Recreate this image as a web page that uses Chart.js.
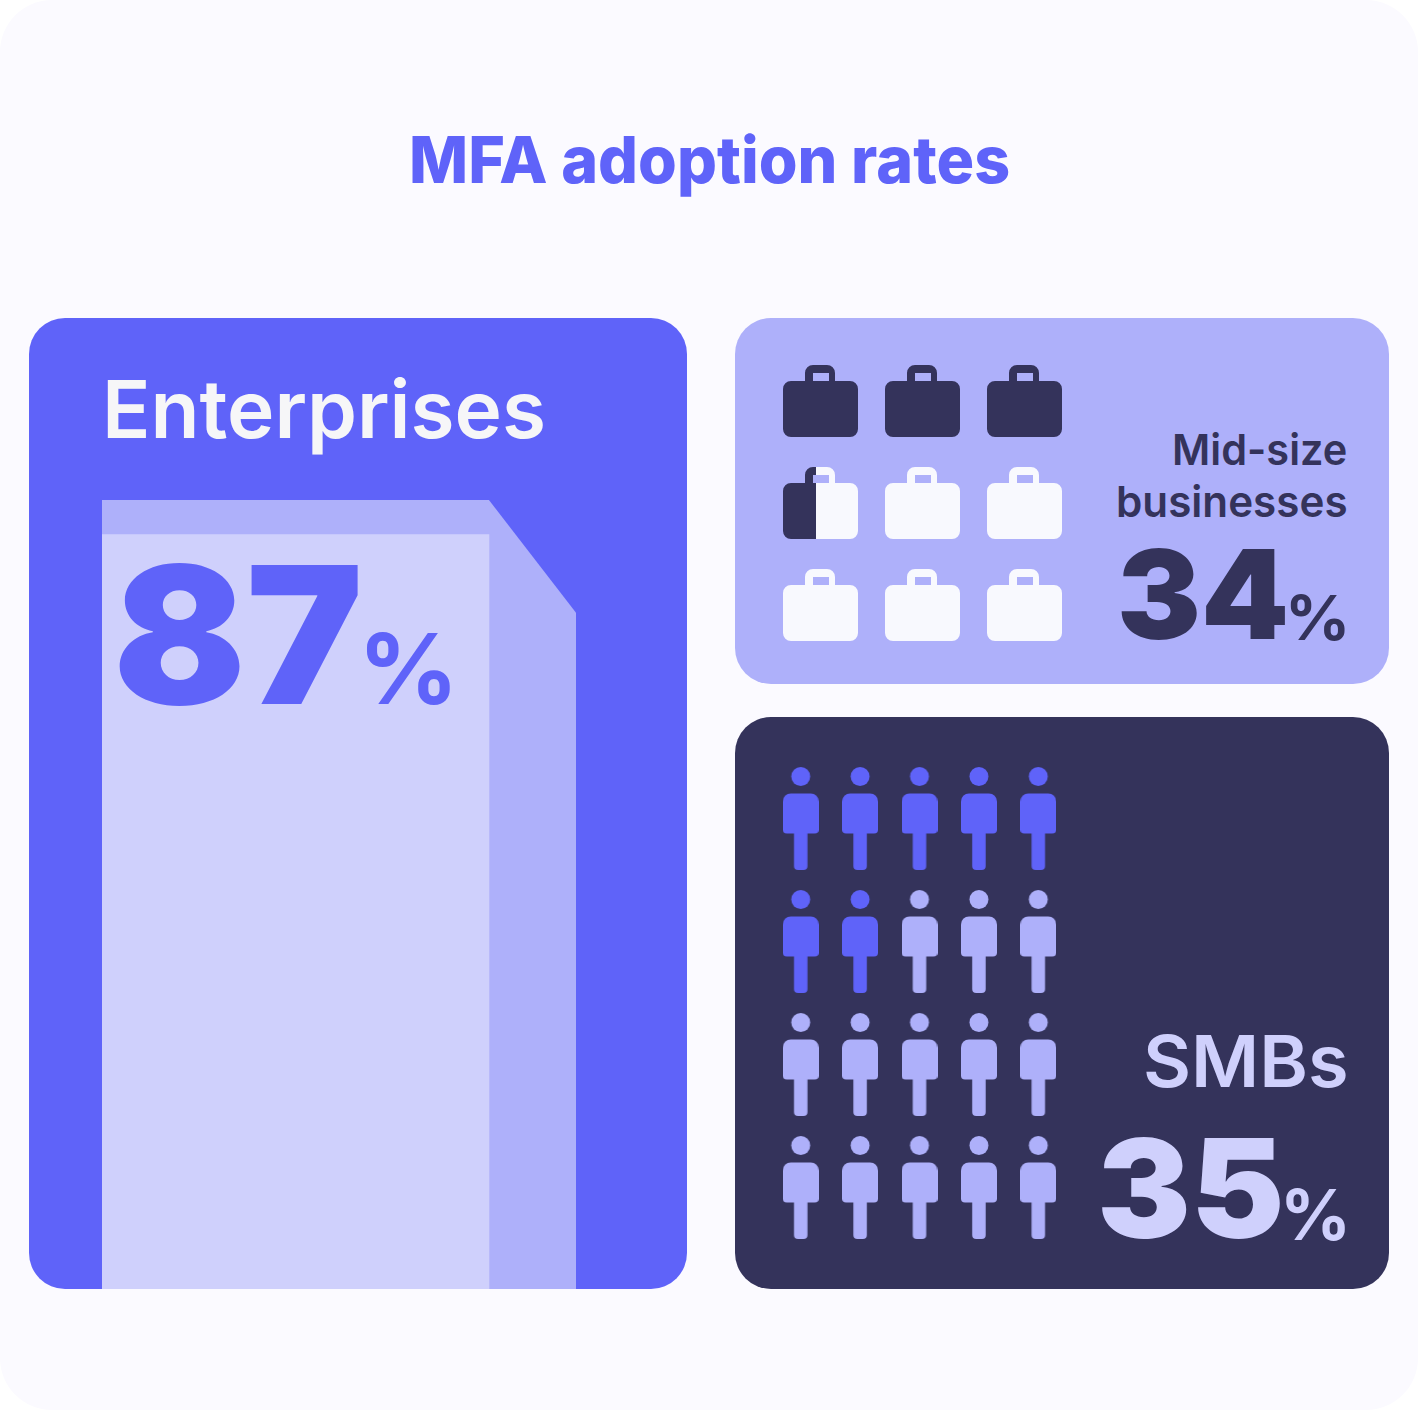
<!DOCTYPE html>
<html>
<head>
<meta charset="utf-8">
<title>MFA adoption rates</title>
<style>
html,body{margin:0;padding:0;background:#fff;width:1418px;height:1410px;overflow:hidden}
#card{position:absolute;left:0;top:0;width:1418px;height:1410px;border-radius:52px;background:#FBFAFF}
.panel{position:absolute;border-radius:36px}
.plot{position:absolute}
.plot canvas{display:block}
.t{position:absolute;white-space:pre;transform-origin:0 0;line-height:1;font-family:Inter,sans-serif}
</style>
<script src="https://cdn.jsdelivr.net/npm/chart.js@4/dist/chart.umd.min.js"></script>
</head>
<body>
<div id="card"></div>
<div class="panel" style="left:29px;top:318px;width:658px;height:971px;background:#5F63F9"></div>
<div class="panel" style="left:735px;top:318px;width:654px;height:366px;background:#AEB0FA"></div>
<div class="panel" style="left:735px;top:717px;width:654px;height:572px;background:#34335B"></div>
<div class="plot" style="left:102px;top:500px"><canvas id="cEnt" width="474" height="789"></canvas></div>
<div class="plot" style="left:770px;top:350px"><canvas id="cMid" width="306" height="306"></canvas></div>
<div class="plot" style="left:771px;top:757px"><canvas id="cSmb" width="297" height="492"></canvas></div>
<script>
// ---- data ----
const enterpriseValue = 87;
const midValue = 34;
const smbValue = 35;
// Enterprise "building": front face x position and the receding side outline
const buildingFrontX = [50];
const buildingSideX = [0, 100, 122.5, 122.5];
const buildingSideY = [91, 91, 78, 0];
// Mid-size pictogram: 3 x 3 briefcases, share of each icon that is dark
const midCols = [0, 1, 2];
const midRows = [0, 1, 2];
const midFill = [1, 1, 1, 0.44, 0, 0, 0, 0, 0];
// SMB pictogram: 5 x 4 people, 1 = highlighted
const smbCols = [0, 1, 2, 3, 4];
const smbRows = [0, 1, 2, 3];
const smbFill = [1, 1, 1, 1, 1, 1, 1, 0, 0, 0, 0, 0, 0, 0, 0, 0, 0, 0, 0, 0];

const C = {blue:'#5F63F9', mid:'#AEB0FA', pale:'#CFD0FC', dark:'#34335B', white:'#F8F9FE', text:'#F6F6F8'};

function rr(ctx,x,y,w,h,r){ctx.beginPath();ctx.roundRect(x,y,w,h,r);}

function briefcaseShape(ctx){
  ctx.beginPath();
  ctx.roundRect(0,16,75,56,8);
  ctx.roundRect(22,0,30,20,[8,8,0,0]);
  ctx.fill();
  ctx.clearRect(29.5,8,16,8);
}
function briefcaseIcon(frac){
  const c=document.createElement('canvas');c.width=76;c.height=72;
  const g=c.getContext('2d');
  g.fillStyle=C.white;briefcaseShape(g);
  if(frac>0){
    const d=document.createElement('canvas');d.width=76;d.height=72;
    const h=d.getContext('2d');
    h.fillStyle=C.dark;briefcaseShape(h);
    g.clearRect(0,0,75*frac,72);
    g.drawImage(d,0,0,75*frac,72,0,0,75*frac,72);
  }
  return c;
}
function personIcon(color){
  const c=document.createElement('canvas');c.width=36;c.height=103;
  const g=c.getContext('2d');
  g.fillStyle=color;
  g.beginPath();g.arc(18,9.5,9.5,0,Math.PI*2);g.fill();
  rr(g,0,26.5,36,40,[8,8,4,4]);g.fill();
  rr(g,11.25,60,13.5,43,[0,0,4,4]);g.fill();
  return c;
}

const base = {
  responsive:false, animation:false, events:[],
  layout:{padding:0,autoPadding:false},
  plugins:{legend:{display:false},tooltip:{enabled:false},title:{display:false}}
};
const hidden = (min,max,reverse)=>({type:'linear',display:false,bounds:'data',min,max,reverse:!!reverse,offset:false,grid:{display:false}});

new Chart(document.getElementById('cEnt'),{
  data:{datasets:[
    {type:'bar',label:'Enterprises',data:buildingFrontX.map(x=>({x,y:enterpriseValue})),
     backgroundColor:C.pale,barThickness:387,order:1},
    {type:'line',label:'side',data:buildingSideX.map((x,i)=>({x,y:buildingSideY[i]})),
     borderWidth:0,pointRadius:0,tension:0,fill:'origin',backgroundColor:C.mid,order:2}
  ]},
  options:{...base,scales:{x:hidden(0,122.5),y:hidden(0,91)}}
});

const midPts=[];midRows.forEach((r,i)=>midCols.forEach((c,j)=>midPts.push({x:c,y:r,f:midFill[i*midCols.length+j]})));
new Chart(document.getElementById('cMid'),{
  type:'scatter',
  data:{datasets:[{label:'Mid-size businesses',data:midPts,
    pointStyle:midPts.map(p=>briefcaseIcon(p.f)),pointRadius:38}]},
  options:{...base,scales:{x:hidden(-0.5,2.5),y:hidden(-0.5,2.5,true)}}
});

const smbPts=[];smbRows.forEach((r,i)=>smbCols.forEach((c,j)=>smbPts.push({x:c,y:r,f:smbFill[i*smbCols.length+j]})));
const personOn=personIcon(C.blue), personOff=personIcon(C.mid);
new Chart(document.getElementById('cSmb'),{
  type:'scatter',
  data:{datasets:[{label:'SMBs',data:smbPts,
    pointStyle:smbPts.map(p=>p.f?personOn:personOff),pointRadius:36}]},
  options:{...base,scales:{x:hidden(-0.5,4.5),y:hidden(-0.5,3.5,true)}}
});

// ---- text: [string, font-size, weight, colour, ink-left, ink-right, baseline]
const texts = [
  ['MFA adoption rates',65,800,C.blue,412,1009,183],
  ['Enterprises',80,600,C.text,107,543,438],
  [enterpriseValue+'',191,900,C.blue,119,358,704],
  ['%',98,700,C.blue,366,450,704],
  ['Mid-size',43,600,C.dark,1175,1346,465],
  ['businesses',43,600,C.dark,1118,1346,517],
  [midValue+'',124,900,C.dark,1121,1285,639],
  ['%',62,700,C.dark,1290,1345,640],
  ['SMBs',72,600,C.pale,1146,1346,1087],
  [smbValue+'',137,900,C.pale,1102,1280,1238],
  ['%',70,700,C.pale,1286,1345,1240]
];
const mc=document.createElement('canvas').getContext('2d');
texts.forEach(([s,size,w,col,l,r,b])=>{
  const el=document.createElement('div');el.className='t';el.textContent=s;
  el.style.fontSize=size+'px';el.style.fontWeight=w;el.style.color=col;
  const strut=document.createElement('span');strut.style.cssText='display:inline-block;width:0;height:0;vertical-align:baseline';
  el.appendChild(strut);
  document.body.appendChild(el);
  mc.font=w+' '+size+'px Inter, sans-serif';
  const m=mc.measureText(s);
  const ink=m.actualBoundingBoxLeft+m.actualBoundingBoxRight;
  const sx=(r-l)/ink;
  el.style.left=(l+m.actualBoundingBoxLeft*sx)+'px';
  el.style.top='0px';
  const y=strut.getBoundingClientRect().bottom;
  el.style.top=(b-y)+'px';
  el.style.transform='scaleX('+sx+')';
});
</script>
</body>
</html>
